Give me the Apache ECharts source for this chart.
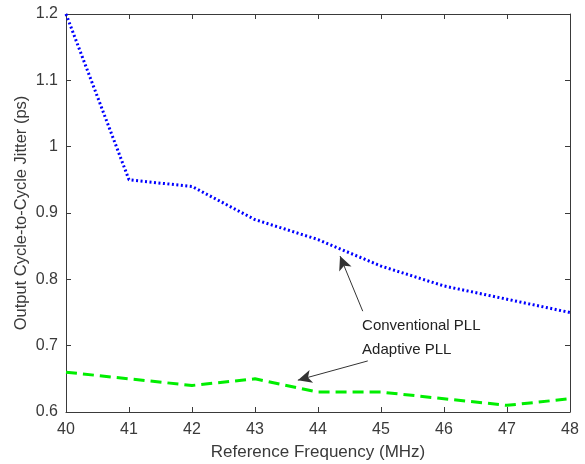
<!DOCTYPE html>
<html>
<head>
<meta charset="utf-8">
<script src="https://cdn.jsdelivr.net/npm/echarts@6/dist/echarts.min.js"></script>
<style>
html, body { margin: 0; padding: 0; background: #fff; }
#chartView { width: 585px; height: 464px; }
</style>
</head>
<body>
<div id="chartView"></div>
<script>
// reference frequency (MHz) and jitter (ps)
var frequency = [40, 41, 42, 43, 44, 45, 46, 47, 48];
var conventionalJitter = [1.2, 0.95, 0.94, 0.89, 0.86, 0.82, 0.79, 0.77, 0.75];
var adaptiveJitter = [0.66, 0.65, 0.64, 0.65, 0.63, 0.63, 0.62, 0.61, 0.62];

// annotation arrows, in data coords: [tail, head]
var convArrow = [[44.71, 0.752], [44.35, 0.835]];
var adaptArrow = [[44.79, 0.677], [43.68, 0.648]];
var convLabelAt = [44.70, 0.730];
var adaptLabelAt = [44.70, 0.694];

var axisColor = '#3a3a3a';
var font = 'Liberation Sans, Arial, sans-serif';

function pairs(xs, ys) {
    var out = [];
    for (var i = 0; i < xs.length; i++) out.push([xs[i], ys[i]]);
    return out;
}

var myChart = echarts.init(document.getElementById('chartView'));

var boxAxis = {
    axisLine: { show: true, onZero: false, lineStyle: { color: axisColor, width: 1 } },
    axisTick: { show: true, inside: true, length: 5, lineStyle: { color: axisColor } },
    splitLine: { show: false }
};

var options = {
    animation: false,
    grid: { left: 66, right: 15, top: 14, bottom: 52, containLabel: false, outerBoundsMode: 'none' },
    xAxis: [
        Object.assign({
            type: 'value', min: 40, max: 48, interval: 1,
            name: 'Reference Frequency (MHz)', nameLocation: 'middle', nameGap: 32,
            nameMoveOverlap: false,
            nameTextStyle: { color: axisColor, fontSize: 17, fontFamily: font },
            axisLabel: { color: axisColor, fontSize: 16, fontFamily: font, margin: 10 }
        }, boxAxis),
        Object.assign({
            type: 'value', min: 40, max: 48, interval: 1, position: 'top',
            axisLabel: { show: false }
        }, boxAxis)
    ],
    yAxis: [
        Object.assign({
            type: 'value', min: 0.6, max: 1.2, interval: 0.1,
            name: 'Output Cycle-to-Cycle Jitter (ps)', nameLocation: 'middle', nameGap: 36,
            nameMoveOverlap: false,
            nameTextStyle: { color: axisColor, fontSize: 16.5, fontFamily: font },
            axisLabel: { color: axisColor, fontSize: 16, fontFamily: font, margin: 8 }
        }, boxAxis),
        Object.assign({
            type: 'value', min: 0.6, max: 1.2, interval: 0.1, position: 'right',
            axisLabel: { show: false }
        }, boxAxis)
    ],
    series: [
        {
            name: 'Conventional PLL',
            type: 'line',
            data: pairs(frequency, conventionalJitter),
            symbol: 'none',
            lineStyle: { color: '#0000ff', width: 3, type: [2, 2.5] },
            z: 3
        },
        {
            name: 'Adaptive PLL',
            type: 'line',
            data: pairs(frequency, adaptiveJitter),
            symbol: 'none',
            lineStyle: { color: '#00ee00', width: 3, type: [11, 6] },
            z: 3,
            markLine: {
                silent: true,
                symbol: ['none', 'arrow'],
                symbolSize: [10, 14],
                label: { show: false },
                lineStyle: { color: '#333', width: 1, type: 'solid' },
                data: [
                    [{ coord: convArrow[0] }, { coord: convArrow[1] }],
                    [{ coord: adaptArrow[0] }, { coord: adaptArrow[1] }]
                ]
            }
        }
    ]
};
myChart.setOption(options);

// annotation text, placed at data coords
var p1 = myChart.convertToPixel({ gridIndex: 0 }, convLabelAt);
var p2 = myChart.convertToPixel({ gridIndex: 0 }, adaptLabelAt);
myChart.setOption({
    graphic: [
        { type: 'text', x: p1[0], y: p1[1], style: { text: 'Conventional PLL', fill: '#222', font: '15px ' + font, textVerticalAlign: 'middle' } },
        { type: 'text', x: p2[0], y: p2[1], style: { text: 'Adaptive PLL', fill: '#222', font: '15px ' + font, textVerticalAlign: 'middle' } }
    ]
});
</script>
</body>
</html>
